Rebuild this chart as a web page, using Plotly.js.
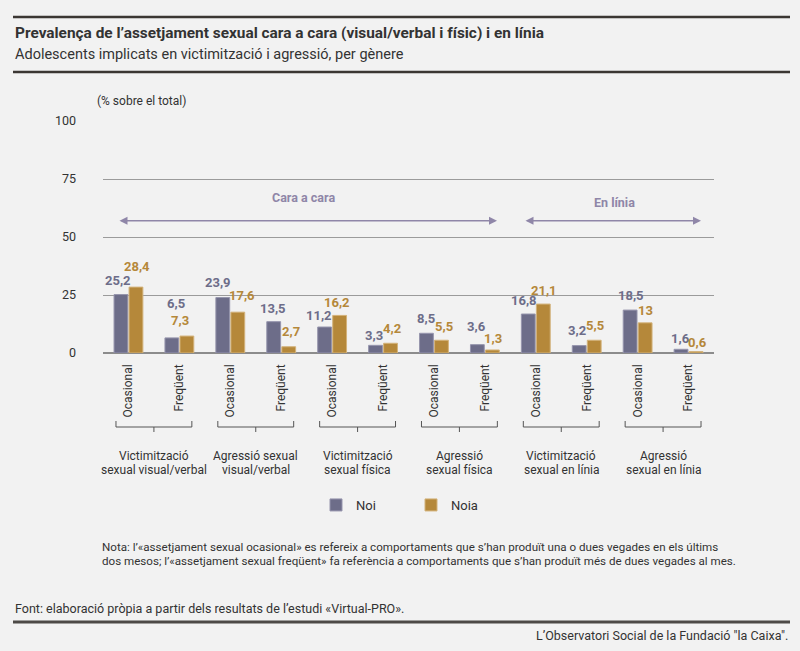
<!DOCTYPE html>
<html>
<head>
<meta charset="utf-8">
<script src="https://cdn.plot.ly/plotly-3.0.1.min.js"></script>
<style>html,body{margin:0;padding:0;background:#f2f2f2;}#chart{width:800px;height:651px;}</style>
</head>
<body>
<div id="chart"></div>
<script>
// ---- data ----
const groupLine1 = ['Victimització', 'Agressió sexual', 'Victimització', 'Agressió', 'Victimització', 'Agressió'];
const groupLine2 = ['sexual visual/verbal', 'visual/verbal', 'sexual física', 'sexual física', 'sexual en línia', 'sexual en línia'];
const frequencies = ['Ocasional', 'Freqüent'];
const noi = [25.2, 6.5, 23.9, 13.5, 11.2, 3.3, 8.5, 3.6, 16.8, 3.2, 18.5, 1.6];
const noia = [28.4, 7.3, 17.6, 2.7, 16.2, 4.2, 5.5, 1.3, 21.1, 5.5, 13, 0.6];
const yTicks = [0, 25, 50, 75, 100];
const seriesNames = ['Noi', 'Noia'];

// ---- label placement (pixels) ----
const noiLabelDy = [14.5, 34.6, 15, 13.4, 11.3, 10.3, 15, 18, 14, 14.6, 14.3, 10.3];
const noiLabelDx = [-10, -3, -12, -8, -13, -9, -8, -8, -12, -10, -7, -8];
const noiaLabelDy = [20.4, 16, 16.5, 15, 12.7, 14.3, 13.5, 11, 13.3, 14.5, 12, 9];
const noiaLabelDx = [9, 1, 12, 10, 5, 9, 10, 8, 8, 8, 8, 9];

const cNoi = '#6d6d89', cNoia = '#b5883a';
const FONT = 'Roboto, "Liberation Sans", sans-serif';

const L = 103, R = 714, T = 121, B = 353;
const px = v => (v - L) / (R - L);
const py = v => (B - v) / (B - T);

const xs = noi.map((_, i) => i);
const tickText = xs.map(i => frequencies[i % 2]);
const fmt = v => String(v).replace('.', ',');

const traces = [
  {type: 'bar', name: seriesNames[0], x: xs, y: noi, marker: {color: cNoi, line: {color: '#9695ad', width: 1}}, hoverinfo: 'y'},
  {type: 'bar', name: seriesNames[1], x: xs, y: noia, marker: {color: cNoia, line: {color: '#d3b27a', width: 1}}, hoverinfo: 'y'}
];

const annotations = [];
const shapes = [];

// value labels
xs.forEach(i => {
  annotations.push({x: i, y: noi[i], xref: 'x', yref: 'y', text: fmt(noi[i]), showarrow: false,
    xshift: noiLabelDx[i], yshift: noiLabelDy[i], yanchor: 'middle', xanchor: 'center',
    font: {family: FONT, size: 13, color: cNoi, weight: 'bold'}});
  annotations.push({x: i, y: noia[i], xref: 'x', yref: 'y', text: fmt(noia[i]), showarrow: false,
    xshift: noiaLabelDx[i], yshift: noiaLabelDy[i], yanchor: 'middle', xanchor: 'center',
    font: {family: FONT, size: 13, color: cNoia, weight: 'bold'}});
});

// group brackets and labels
groupLine1.forEach((g, k) => {
  const a = 2 * k - 0.245, b = 2 * k + 1.245, m = 2 * k + 0.5;
  const yb = py(427), yt = py(421), yd = py(432);
  const ln = {color: '#555555', width: 1};
  shapes.push({type: 'line', xref: 'x', yref: 'paper', x0: a, x1: b, y0: yb, y1: yb, line: ln});
  shapes.push({type: 'line', xref: 'x', yref: 'paper', x0: a, x1: a, y0: yb, y1: yt, line: ln});
  shapes.push({type: 'line', xref: 'x', yref: 'paper', x0: b, x1: b, y0: yb, y1: yt, line: ln});
  shapes.push({type: 'line', xref: 'x', yref: 'paper', x0: m, x1: m, y0: yb, y1: yd, line: ln});
  annotations.push({x: m, y: py(456), xref: 'x', yref: 'paper', text: g, showarrow: false, yanchor: 'middle',
    font: {family: FONT, size: 12, color: '#333333'}});
  annotations.push({x: m, y: py(470), xref: 'x', yref: 'paper', text: groupLine2[k], showarrow: false, yanchor: 'middle',
    font: {family: FONT, size: 12, color: '#333333'}});
});

// range arrows
const arrowColor = '#8f86a8';
annotations.push({x: 7.238, y: 57, ax: -0.205, ay: 57, xref: 'x', yref: 'y', axref: 'x', ayref: 'y', text: '',
  showarrow: true, arrowside: 'end+start', arrowhead: 2, arrowsize: 1, arrowwidth: 1.6, arrowcolor: arrowColor, standoff: 0, startstandoff: 0});
annotations.push({x: 11.244, y: 57, ax: 7.768, ay: 57, xref: 'x', yref: 'y', axref: 'x', ayref: 'y', text: '',
  showarrow: true, arrowside: 'end+start', arrowhead: 2, arrowsize: 1, arrowwidth: 1.6, arrowcolor: arrowColor, standoff: 0, startstandoff: 0});
annotations.push({x: 3.43, y: 67.2, xref: 'x', yref: 'y', text: 'Cara a cara', showarrow: false,
  font: {family: FONT, size: 12.5, color: arrowColor, weight: 'bold'}});
annotations.push({x: 9.55, y: 64.7, xref: 'x', yref: 'y', text: 'En línia', showarrow: false,
  font: {family: FONT, size: 12.5, color: arrowColor, weight: 'bold'}});

// texts in header/footer
annotations.push({x: px(13), y: py(33), xref: 'paper', yref: 'paper', xanchor: 'left', yanchor: 'middle', showarrow: false,
  text: 'Prevalença de l’assetjament sexual cara a cara (visual/verbal i físic) i en línia',
  font: {family: FONT, size: 15.4, color: '#333333', weight: 'bold'}});
annotations.push({x: px(13), y: py(55), xref: 'paper', yref: 'paper', xanchor: 'left', yanchor: 'middle', showarrow: false,
  text: 'Adolescents implicats en victimització i agressió, per gènere',
  font: {family: FONT, size: 14.5, color: '#333333'}});
annotations.push({x: px(95), y: py(101), xref: 'paper', yref: 'paper', xanchor: 'left', yanchor: 'middle', showarrow: false,
  text: '(% sobre el total)', font: {family: FONT, size: 12, color: '#333333'}});
annotations.push({x: px(100), y: py(547), xref: 'paper', yref: 'paper', xanchor: 'left', yanchor: 'middle', showarrow: false,
  text: 'Nota: l’«assetjament sexual ocasional» es refereix a comportaments que s’han produït una o dues vegades en els últims',
  font: {family: FONT, size: 11.6, color: '#333333'}});
annotations.push({x: px(100), y: py(561), xref: 'paper', yref: 'paper', xanchor: 'left', yanchor: 'middle', showarrow: false,
  text: 'dos mesos; l’«assetjament sexual freqüent» fa referència a comportaments que s’han produït més de dues vegades al mes.',
  font: {family: FONT, size: 11.6, color: '#333333'}});
annotations.push({x: px(13), y: py(608), xref: 'paper', yref: 'paper', xanchor: 'left', yanchor: 'middle', showarrow: false,
  text: 'Font: elaboració pròpia a partir dels resultats de l’estudi «Virtual-PRO».',
  font: {family: FONT, size: 12.5, color: '#333333'}});
annotations.push({x: px(790), y: py(635), xref: 'paper', yref: 'paper', xanchor: 'right', yanchor: 'middle', showarrow: false,
  text: 'L’Observatori Social de la Fundació "la Caixa".',
  font: {family: FONT, size: 12.5, color: '#333333'}});

// rules
[[17, 2.5, '#3b3733'], [72, 2.5, '#3b3733'], [622, 3, '#4d4a47']].forEach(([y, w, c]) => {
  shapes.push({type: 'line', xref: 'paper', yref: 'paper', x0: px(13), x1: px(790), y0: py(y), y1: py(y), line: {color: c, width: w}});
});

const layout = {
  width: 800, height: 651,
  margin: {l: L, r: 800 - R, t: T, b: 651 - B, pad: 0},
  paper_bgcolor: '#f2f2f2', plot_bgcolor: '#f2f2f2',
  font: {family: FONT, size: 12, color: '#333333'},
  barmode: 'group', bargap: 0.41, bargroupgap: 0.08,
  showlegend: true,
  legend: {orientation: 'h', x: px(316), y: py(505), xanchor: 'left', yanchor: 'middle',
    entrywidth: 50, entrywidthmode: 'pixels', font: {family: FONT, size: 13, color: '#333333'}, bgcolor: 'rgba(0,0,0,0)'},
  xaxis: {range: [-0.5, 11.5], tickvals: xs, ticktext: tickText, tickangle: -90, showgrid: false,
    zeroline: false, showline: false, ticks: '', ticklabelstandoff: 8, fixedrange: true,
    tickfont: {family: FONT, size: 12, color: '#333333'}},
  yaxis: {range: [0, 100], tickvals: yTicks, ticktext: yTicks.map(String), showgrid: true, gridcolor: '#9b9b9b', gridwidth: 1,
    zeroline: true, zerolinecolor: '#8c8c8c', zerolinewidth: 2, showline: false, ticks: '', ticklabelstandoff: 26,
    tickfont: {family: FONT, size: 12.5, color: '#333333'}, fixedrange: true},
  annotations: annotations,
  shapes: shapes
};

Plotly.newPlot('chart', traces, layout, {displayModeBar: false, staticPlot: true});
</script>
</body>
</html>
